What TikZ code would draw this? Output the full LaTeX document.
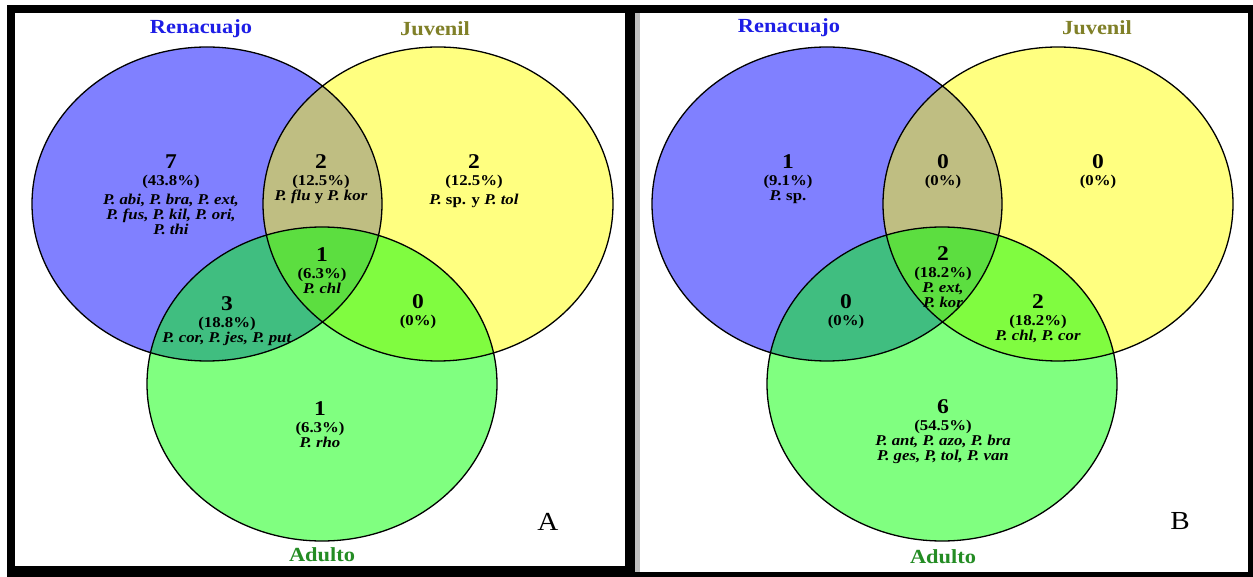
\documentclass[tikz,border=0pt]{standalone}
\usepackage{fontspec}
\setmainfont[FakeStretch=1.12]{Liberation Serif}
\usetikzlibrary{positioning}
\definecolor{renfill}{RGB}{128,128,255}
\definecolor{juvfill}{RGB}{255,255,128}
\definecolor{adufill}{RGB}{128,255,128}
\definecolor{rjfill}{RGB}{191,190,130}
\definecolor{rafill}{RGB}{64,190,128}
\definecolor{jafill}{RGB}{128,252,64}
\definecolor{allfill}{RGB}{92,222,64}
\definecolor{rencol}{RGB}{30,30,230}
\definecolor{juvcol}{RGB}{128,128,40}
\definecolor{aducol}{RGB}{36,140,36}
\begin{document}
\begin{tikzpicture}[x=1pt,y=-1pt, line join=round, line cap=round,
	oval/.style={x radius=175pt, y radius=157pt},
	num/.style={font=\fontsize{21}{21}\selectfont\bfseries, inner sep=0pt},
	info/.style={font=\fontsize{15}{15}\selectfont\bfseries, align=center, inner sep=0pt},
	setname/.style={font=\fontsize{20}{20}\selectfont\bfseries, inner sep=0pt},
	panel/.style={font=\fontsize{26}{26}\selectfont, inner sep=0pt}]
	\useasboundingbox (0,0) rectangle (1253,577);
	% marcos
	\fill (7,5) rectangle (1253,577);
	\fill[white] (15,13) rectangle (625,566);
	\fill[white] (640,13) rectangle (1248,572);
	\fill[black!25] (635,13) rectangle (640,572);
	% diagramas
	\foreach \dx in {0,620}{
		\coordinate (ren) at (207+\dx,204);
		\coordinate (juv) at (438+\dx,204);
		\coordinate (adu) at (322+\dx,384);
		\fill[renfill] (ren) ellipse [oval];
		\fill[juvfill] (juv) ellipse [oval];
		\fill[adufill] (adu) ellipse [oval];
		\begin{scope}
			\clip (ren) ellipse [oval];
			\fill[rjfill] (juv) ellipse [oval];
			\fill[rafill] (adu) ellipse [oval];
		\end{scope}
		\begin{scope}
			\clip (juv) ellipse [oval];
			\fill[jafill] (adu) ellipse [oval];
			\clip (ren) ellipse [oval];
			\fill[allfill] (adu) ellipse [oval];
		\end{scope}
		\draw[line width=1.3pt] (ren) ellipse [oval] (juv) ellipse [oval] (adu) ellipse [oval];
	}
	% A
	\node[setname, text=rencol] (renA) at (201,29) {Renacuajo};
	\node[setname, text=juvcol] (juvA) at (435,29) {Juvenil};
	\node[setname, text=aducol] (aduA) at (322,555) {Adulto};
	\node[panel] (letA) at (548,522) {A};
	\node[num] (a1) at (171,162) {7};
	\node[info, below=6pt of a1] (a1i) {(43.8\%)\\[4pt]\textit{P. abi, P. bra, P. ext,}\\\textit{P. fus, P. kil, P. ori,}\\\textit{P. thi}};
	\node[num] (a2) at (321,162) {2};
	\node[info, below=6pt of a2] (a2i) {(12.5\%)\\\textit{P. flu} y \textit{P. kor}};
	\node[num] (a3) at (474,162) {2};
	\node[info, below=6pt of a3] (a3i) {(12.5\%)\\[4pt]\textit{P.} sp. y \textit{P. tol}};
	\node[num] (a4) at (322,255) {1};
	\node[info, below=6pt of a4] (a4i) {(6.3\%)\\\textit{P. chl}};
	\node[num] (a5) at (227,304) {3};
	\node[info, below=6pt of a5] (a5i) {(18.8\%)\\\textit{P. cor, P. jes, P. put}};
	\node[num] (a6) at (418,302) {0};
	\node[info, below=6pt of a6] (a6i) {(0\%)};
	\node[num] (a7) at (320,409) {1};
	\node[info, below=6pt of a7] (a7i) {(6.3\%)\\\textit{P. rho}};
	% B
	\node[setname, text=rencol] (renB) at (789,28) {Renacuajo};
	\node[setname, text=juvcol] (juvB) at (1097,28) {Juvenil};
	\node[setname, text=aducol] (aduB) at (943,557) {Adulto};
	\node[panel] (letB) at (1180,521) {B};
	\node[num] (b1) at (788,162) {1};
	\node[info, below=6pt of b1] (b1i) {(9.1\%)\\\textit{P.} sp.};
	\node[num] (b2) at (943,162) {0};
	\node[info, below=6pt of b2] (b2i) {(0\%)};
	\node[num] (b3) at (1098,162) {0};
	\node[info, below=6pt of b3] (b3i) {(0\%)};
	\node[num] (b4) at (943,254) {2};
	\node[info, below=6pt of b4] (b4i) {(18.2\%)\\\textit{P. ext,}\\\textit{P. kor}};
	\node[num] (b5) at (846,302) {0};
	\node[info, below=6pt of b5] (b5i) {(0\%)};
	\node[num] (b6) at (1038,302) {2};
	\node[info, below=6pt of b6] (b6i) {(18.2\%)\\\textit{P. chl, P. cor}};
	\node[num] (b7) at (943,407) {6};
	\node[info, below=6pt of b7] (b7i) {(54.5\%)\\\textit{P. ant, P. azo, P. bra}\\\textit{P. ges, P, tol, P. van}};
\end{tikzpicture}
\end{document}
